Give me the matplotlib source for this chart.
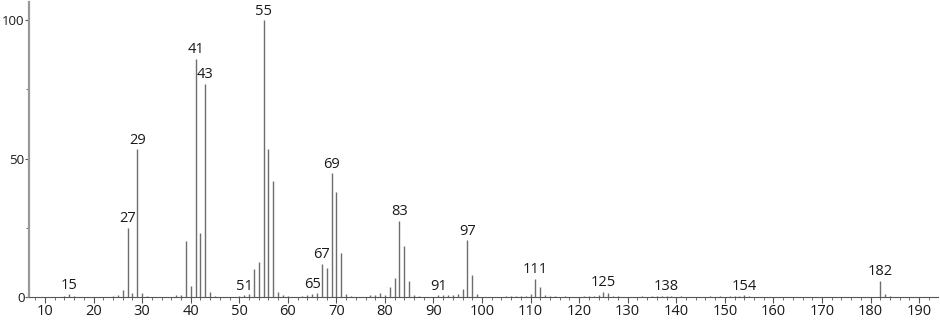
import matplotlib
matplotlib.use("Agg")
import matplotlib.pyplot as plt
from matplotlib.ticker import MultipleLocator

# ── spectrum data (m/z, relative intensity %) ─────────────────────────────
mz = [14, 15, 16, 24, 25, 26, 27, 28, 29, 30, 31,
      37, 38, 39, 40, 41, 42, 43, 44, 45,
      50, 51, 52, 53, 54, 55, 56, 57, 58, 59, 60,
      63, 64, 65, 66, 67, 68, 69, 70, 71, 72, 73,
      77, 78, 79, 80, 81, 82, 83, 84, 85, 86, 87,
      91, 92, 93, 94, 95, 96, 97, 98, 99,
      105, 106, 107, 108, 109, 110, 111, 112, 113, 114, 115, 117,
      121, 122, 123, 124, 125, 126, 127, 128,
      133, 135, 136, 137, 138, 139, 141,
      147, 149, 151, 152, 153, 154, 155,
      182, 183, 184]
intensity = [0.5, 1.0, 0.5, 0.5, 0.6, 2.6, 25.0, 1.6, 53.4, 1.6, 0.5,
             0.6, 0.8, 20.2, 4.0, 86.0, 23.0, 77.0, 1.8, 0.5,
             0.5, 0.7, 1.0, 10.0, 12.6, 100.0, 53.5, 42.0, 1.8, 0.8, 0.5,
             0.5, 0.8, 1.2, 1.5, 12.0, 10.6, 44.6, 38.0, 16.0, 1.0, 0.5,
             0.7, 0.7, 1.4, 0.6, 3.7, 6.7, 27.5, 18.3, 5.8, 0.7, 0.5,
             0.7, 0.6, 0.6, 0.7, 1.2, 2.9, 20.6, 8.0, 1.1,
             0.5, 0.5, 0.5, 0.5, 0.5, 1.0, 6.6, 3.5, 0.6, 0.5, 0.5, 0.5,
             0.5, 0.5, 0.5, 0.6, 1.9, 1.3, 0.5, 0.3,
             0.4, 0.4, 0.4, 0.5, 0.5, 0.4, 0.5,
             0.4, 0.4, 0.4, 0.5, 0.5, 0.6, 0.3,
             5.9, 1.0, 0.5]

labelled = [15, 27, 29, 41, 43, 51, 55, 65, 67, 69, 83, 91, 97, 111, 125, 138, 154, 182]

FONT = ["Open Sans", "DejaVu Sans"]
BAR = "#6e6e6e"
FS = 10.5

fig = plt.figure(figsize=(9.4, 3.2), dpi=100)
ax = fig.add_axes([29 / 940, 1 - 297 / 320, 909 / 940, 295 / 320])

ax.vlines(mz, 0, intensity, colors=BAR, linewidth=1.0)

lookup = dict(zip(mz, intensity))
for m in labelled:
    ax.annotate(str(m), (m, lookup[m]), xytext=(0, 1.0), textcoords="offset points",
                ha="center", va="bottom", fontsize=FS, family=FONT, color="#1a1a1a")

ax.set_xlim(6.7, 193.9)
ax.set_ylim(0, 106.5)

ax.xaxis.set_minor_locator(MultipleLocator(2))
ax.set_xticks(range(10, 191, 10))
ax.set_yticks([0, 50, 100])
ax.yaxis.set_minor_locator(MultipleLocator(25))

ax.tick_params(axis="x", which="major", length=4, width=0.8, color="#555555",
               labelsize=FS, pad=1)
ax.tick_params(axis="x", which="minor", length=2, width=0.6, color="#555555")
ax.tick_params(axis="y", which="major", length=3, width=0.8, color="#555555",
               labelsize=9.5, pad=0.3)
ax.tick_params(axis="y", which="minor", length=2, width=0.6, color="#555555")
for lab in ax.get_xticklabels() + ax.get_yticklabels():
    lab.set_family(FONT)
    lab.set_color("#1a1a1a")

ax.spines["top"].set_visible(False)
ax.spines["right"].set_visible(False)
ax.spines["left"].set_color("#999999")
ax.spines["left"].set_linewidth(1.6)
ax.spines["bottom"].set_color("#555555")
ax.spines["bottom"].set_linewidth(0.8)

fig.savefig("out.png", dpi=100)
